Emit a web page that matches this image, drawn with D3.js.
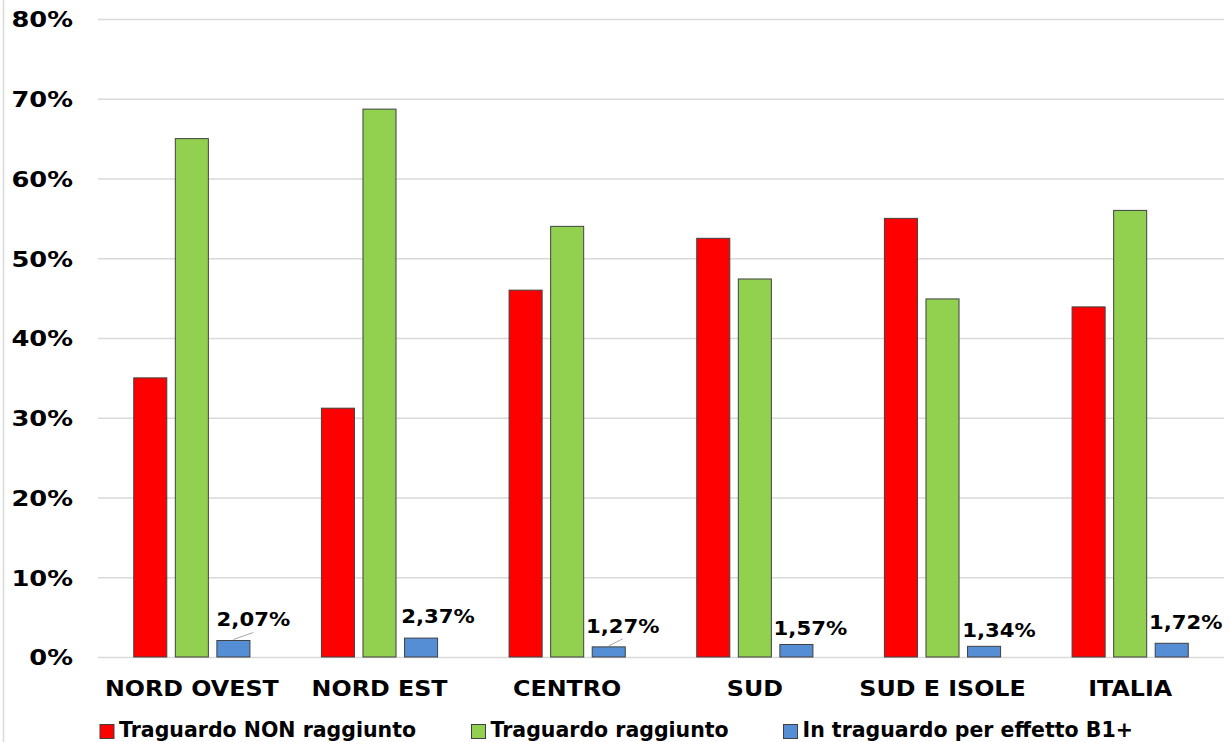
<!DOCTYPE html>
<html>
<head>
<meta charset="utf-8">
<script src="https://cdn.jsdelivr.net/npm/d3@7"></script>
<style>
  html, body { margin: 0; padding: 0; background: #fff; }
  svg { display: block; }
  text { font-family: "DejaVu Sans", Verdana, sans-serif; font-weight: bold; fill: #000; }
</style>
</head>
<body>
<svg id="chart" width="1230" height="742"></svg>
<script>
const categories = ["NORD OVEST", "NORD EST", "CENTRO", "SUD", "SUD E ISOLE", "ITALIA"];
const seriesNames = ["Traguardo NON raggiunto", "Traguardo raggiunto", "In traguardo per effetto B1+"];
const nonRaggiunto = [35.0, 31.2, 46.0, 52.5, 55.0, 43.9];
const raggiunto = [65.0, 68.7, 54.0, 47.4, 44.9, 56.0];
const effettoB1 = [2.07, 2.37, 1.27, 1.57, 1.34, 1.72];
const b1Labels = ["2,07%", "2,37%", "1,27%", "1,57%", "1,34%", "1,72%"];
const yTicks = [0, 10, 20, 30, 40, 50, 60, 70, 80];

// layout / style (not data)
const colors = ["#ff0000", "#92d050", "#558ed5"];
const labelOffsets = [[20, -14], [17, -15], [14, -14], [14, -9], [15, -9], [14, -14]];
const leaderLines = [true, false, true, false, false, false];

const svg = d3.select("#chart");
const plotLeft = 98, plotRight = 1224, plotTop = 19, plotBottom = 657;
const FONT = '"DejaVu Sans", Verdana, sans-serif';

function stretch(sel, factor) {
  sel.each(function () {
    const len = this.getComputedTextLength();
    d3.select(this).attr("textLength", len * factor).attr("lengthAdjust", "spacingAndGlyphs");
  });
}

const x0 = d3.scaleBand().domain(categories).range([plotLeft, plotRight]).paddingInner(0).paddingOuter(0);
const x1 = d3.scaleBand().domain(seriesNames).range([0, x0.bandwidth()]).paddingInner(0.205).paddingOuter(0.86);
const y = d3.scaleLinear().domain([0, 80]).range([plotBottom, plotTop]);

// left border line
svg.append("line").attr("x1", 3.5).attr("x2", 3.5).attr("y1", 0).attr("y2", 742)
  .attr("stroke", "#d9d9d9").attr("stroke-width", 1.5);

// gridlines + y labels
const yAxis = d3.axisLeft(y).tickValues(yTicks).tickSize(-(plotRight - plotLeft)).tickFormat(d => d + "%");
const gy = svg.append("g").attr("transform", `translate(${plotLeft},0)`).call(yAxis);
gy.select(".domain").remove();
gy.selectAll(".tick line").attr("stroke", "#d9d9d9").attr("stroke-width", 1.3);
const yText = gy.selectAll(".tick text").attr("x", -25).attr("dy", "0.36em")
  .style("font-size", "22px").style("font-family", FONT).style("font-weight", "bold").attr("fill", "#000");
stretch(yText, 1.17);

// x axis labels
const xAxis = d3.axisBottom(x0).tickSize(0).tickPadding(0);
const gx = svg.append("g").attr("transform", `translate(0,${plotBottom})`).call(xAxis);
gx.select(".domain").remove();
const xText = gx.selectAll(".tick text").attr("y", 39).attr("dy", 0)
  .style("font-size", "22px").style("font-family", FONT).style("font-weight", "bold").attr("fill", "#000");
stretch(xText, 1.08);

const series = [nonRaggiunto, raggiunto, effettoB1];
series.forEach((vals, si) => {
  svg.append("g").selectAll("rect").data(vals).join("rect")
    .attr("x", (d, i) => x0(categories[i]) + x1(seriesNames[si]))
    .attr("y", d => y(d))
    .attr("width", x1.bandwidth())
    .attr("height", d => y(0) - y(d))
    .attr("fill", colors[si])
    .attr("stroke", "#404040")
    .attr("stroke-width", 1);
});

// B1 labels
const labG = svg.append("g");
effettoB1.forEach((v, i) => {
  const cx = x0(categories[i]) + x1(seriesNames[2]) + x1.bandwidth() / 2;
  const lx = cx + labelOffsets[i][0];
  const ly = y(v) + labelOffsets[i][1];
  const t = labG.append("text").attr("x", lx).attr("y", ly).attr("text-anchor", "middle")
    .style("font-size", "20px").text(b1Labels[i]);
  stretch(t, 1.06);
  if (leaderLines[i]) {
    labG.append("line").attr("x1", lx).attr("y1", ly + 6).attr("x2", cx).attr("y2", y(v) - 1)
      .attr("stroke", "#a6a6a6").attr("stroke-width", 1);
  }
});

// legend
const legendX = [100, 471.5, 783.5];
const leg = svg.append("g");
seriesNames.forEach((s, i) => {
  leg.append("rect").attr("x", legendX[i]).attr("y", 724.5).attr("width", 14).attr("height", 14)
    .attr("fill", colors[i]).attr("stroke", "#404040").attr("stroke-width", 1);
  leg.append("text").attr("x", legendX[i] + 19).attr("y", 736.5).style("font-size", "20.5px").text(s);
});
</script>
</body>
</html>
